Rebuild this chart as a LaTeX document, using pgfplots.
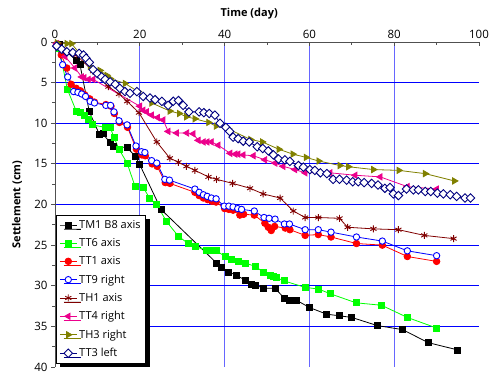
\documentclass[border=0pt]{standalone}
\usepackage{fontspec}
\setmainfont{Open Sans}
\usepackage{pgfplots}
\pgfplotsset{compat=1.18}
\usetikzlibrary{shadows}
\definecolor{olivec}{RGB}{128,128,0}
\definecolor{darkredc}{RGB}{128,0,0}
\definecolor{navyc}{RGB}{0,0,128}
\definecolor{axgray}{RGB}{80,80,80}
\begin{document}
\begin{tikzpicture}
\useasboundingbox (0,0) rectangle (490pt,-372pt);
\begin{axis}[
  at={(55pt,-42pt)}, anchor=north west,
  scale only axis, width=424pt, height=325pt,
  xmin=0, xmax=100, ymin=0, ymax=40, y dir=reverse,
  axis line style={draw=none},
  xtick={0,20,...,100}, ytick={0,5,...,40},
  minor x tick num=1, minor y tick num=1,
  xtick pos=upper, ytick pos=left, xticklabel pos=upper,
  xtick align=inside, ytick align=outside,
  major tick length=4pt, minor tick length=3pt,
  every tick/.style={axgray, line width=0.9pt},
  /pgf/number format/assume math mode=true,
  tick label style={font=\fontsize{11.5}{13}\selectfont},
  extra x ticks={20,40,60,80}, extra x tick labels={},
  extra x tick style={grid=major, major grid style={blue!60, line width=0.9pt}},
  extra y ticks={5,10,...,35}, extra y tick labels={},
  extra y tick style={grid=major, major grid style={blue, line width=0.9pt}},
  xlabel={\textbf{Time (day)}},
  xlabel style={at={(axis description cs:0.458,1)}, anchor=south, yshift=19pt, font=\fontsize{11}{13}\selectfont},
  ylabel={\textbf{Settlement (cm)}},
  ylabel style={at={(axis description cs:0,0.5)}, anchor=center, rotate=0, yshift=38pt, font=\fontsize{11}{13}\selectfont},
  legend cell align=left,
  legend style={at={(axis description cs:0.0025,0.468)}, anchor=north west,
    draw=black, line width=0.6pt, fill=white, font=\fontsize{11}{13}\selectfont,
    row sep=4.6pt, inner sep=3pt,
    drop shadow={shadow xshift=4pt, shadow yshift=-4pt, fill=black, opacity=1}},
  every axis plot/.append style={line width=0.8pt},
]
\addplot[black, mark=square*, mark size=3pt, mark options={fill=black}] coordinates {
(1,0.3) (5,2.3) (5.9,2.8) (8.1,8.6) (10.5,11.4) (11.3,11.3) (13,12.4) (13.7,12.8)
(17,13) (19,14.1) (20,15.1) (25,20.6) (38.1,27.2) (39.3,27.7) (40.9,28.3) (42.8,28.7)
(44.8,29.3) (46.4,29.8) (47.2,29.9) (49.1,30.3) (51.9,30.3) (54,31.5) (55.4,31.8)
(57,31.8) (60.1,32.7) (64.1,33.5) (67.1,33.7) (70,33.9) (76,34.9) (82,35.4) (88,37) (95,37.9)};
\addlegendentry{TM1 B8 axis}
\addplot[green, mark=square*, mark size=3pt, mark options={fill=green}] coordinates {
(1,0.8) (2.9,5.8) (5,8.5) (5.9,8.7) (6.9,9) (7.9,9.5) (8.8,10.2) (11.8,10.5) (13,10.5)
(13.9,11.7) (15.1,13.2) (17,14.9) (18.9,17.8) (20.8,17.9) (22.3,19.2) (24,20) (26.3,22.1)
(29.1,23.9) (31.4,24.8) (33,25.2) (35.8,25.6) (37,25.6) (38.1,25.7) (40.1,26.4) (41.7,26.7)
(43.2,27) (44.8,27.2) (47.2,27.6) (49.1,28.3) (50.7,28.7) (51.5,28.9) (52.3,29) (54,29.4)
(59,30.2) (62.1,30.4) (65,31) (71,32.1) (77,32.4) (83.1,33.9) (90,35.2)};
\addlegendentry{TT6 axis}
\addplot[red, mark=*, mark size=3.3pt, mark options={fill=red}] coordinates {
(0.4,0.3) (1.5,1.6) (2.8,3.2) (3.8,5.2) (5,5.7) (6,6) (7,6.5) (8.2,7) (9.3,7.4) (12,7.7)
(13.2,7.9) (14,8.8) (15.2,9.9) (17.1,10.5) (19.2,13.2) (20.5,13.9) (21.3,14) (22.9,15)
(24.1,15.3) (26,17.3) (27.1,17.4) (33,18.5) (34,18.9) (35,19.2) (36,19.4) (37,19.6)
(38,19.7) (40,20.5) (41,20.6) (42,20.7) (43.6,21.3) (44.5,21.2) (47,21.3) (49.5,22.3)
(50.3,22.8) (51,23.2) (51.8,22.7) (54.3,22.9) (55.4,23.1) (59,23.8) (62.1,23.7) (65.1,24)
(71.1,24.8) (77.2,25) (83.1,26.4) (90,27)};
\addlegendentry{TT1 axis}
\addplot[blue, mark=*, mark size=3.2pt, mark options={fill=white, line width=0.9pt}] coordinates {
(0.4,0.5) (1.8,2.8) (3,4.3) (4.4,6.1) (5.4,6.2) (6.3,6.4) (7.2,6.7) (8.3,7.3) (9.3,7.5)
(12,7.8) (13.1,7.8) (13.9,8.6) (15.1,9.7) (17,10.2) (19.1,12.8) (20.4,13.5) (21.2,13.6)
(22.8,14.6) (24,14.9) (25.9,16.9) (27,17) (33,18.1) (34,18.5) (35,18.8) (35.9,19) (36.9,19.2)
(38,19.3) (39.9,20.2) (41,20.2) (42,20.3) (43.1,20.5) (44,20.6) (47,20.8) (49.3,21.6)
(50.5,21.7) (51.9,21.8) (54.1,22.4) (55.3,22.4) (59,23.1) (62.1,23.1) (65.1,23.4)
(71.1,24) (77.2,24.5) (83.1,25.7) (90,26.3)};
\addlegendentry{TT9 right}
\addplot[darkredc, mark=asterisk, mark size=3.5pt, mark options={line width=0.9pt}] coordinates {
(1,0.3) (5,1.6) (9,3.6) (12.6,5.5) (15.1,6.4) (17,7.3) (19.8,8.7) (24,12.3) (27.1,14.3)
(29.1,14.8) (31,15.3) (33,15.8) (36.2,16.6) (38.1,16.9) (41.9,17.4) (46,18) (49.1,18.7)
(53.1,19.2) (56.2,20.8) (59,21.6) (62.1,21.6) (67.1,21.7) (69,22.8) (75.1,23) (81,23.1)
(87.1,23.8) (94,24.2)};
\addlegendentry{TH1 axis}
\addplot[magenta, mark=triangle*, mark size=3.6pt, mark options={fill=magenta, rotate=90}] coordinates {
(0.4,0.2) (2.4,1.8) (4.7,3.2) (6.3,4.3) (6.9,4.4) (7.9,4.6) (9,4.6) (20,7.9) (20.8,8.4)
(21.6,8.6) (22.8,9) (24.2,9.3) (25.5,9.6) (26.7,11) (28.7,11.2) (31.1,11.2) (32.6,11.3)
(33.8,12.1) (35,12.3) (35.9,12.3) (36.9,12.3) (38.5,12.7) (41.3,13.7) (42.5,13.8)
(43.2,13.8) (44.4,13.9) (46.8,14) (49.5,14.5) (51.9,14.9) (53.8,15.3) (56.6,15.7)
(59,16.1) (64.9,16.1) (70.8,16.4) (76.7,16.6) (83.1,17.8) (90,18.1)};
\addlegendentry{TT4 right}
\addplot[olivec, mark=triangle*, mark size=3.6pt, mark options={fill=olivec, rotate=-90}] coordinates {
(0.5,0.1) (2.8,0.2) (3.9,0.2) (8.3,3) (9.4,3.4) (10.6,3.5) (12.2,4.1) (13,4.5) (16.5,5.1)
(19.6,6.1) (22.8,7.5) (27.1,8.5) (29.3,8.8) (31,9.2) (33,9.45) (36.2,9.9) (38,10.35)
(40.9,10.7) (46.1,12) (48.9,12.3) (52.8,13.2) (56.1,13.8) (59.2,14.2) (62.2,14.65)
(67.2,15.2) (69.2,15.35) (75.1,15.7) (81.1,15.8) (87.3,16.2) (94.2,17.1)};
\addlegendentry{TH3 right}
\addplot[navyc, mark=square*, mark size=3pt, mark options={fill=white, line width=0.9pt, rotate=45}] coordinates {
(0.4,0.5) (1.6,0.9) (2.8,1.2) (4.2,1.3) (5.7,1.4) (6.7,1.6) (7.3,2) (8.1,2.5) (9,3.4)
(10,3.9) (11,4.3) (11.8,4.6) (13,4.9) (14.2,5.2) (15.3,5.7) (16.5,6.1) (17.7,6.3)
(19.3,6.1) (20.8,6.7) (22.4,6.9) (23.6,7.1) (25.2,7.3) (26.7,7.8) (27.9,7.3) (29.1,7.2)
(30.2,7.8) (31.6,8.6) (34,8.6) (35.1,8.7) (36.4,8.8) (37.7,9) (38.9,10) (40.3,10.5)
(41.2,11) (42,11.7) (43.2,11.9) (44.4,12.2) (45.8,12.3) (47.7,12.9) (49,13.1) (50.3,13.4)
(51.5,13.9) (52.7,14.4) (54.2,14.5) (55.4,14.7) (57.4,15.2) (58.6,15.4) (60.1,15.7)
(61.3,15.8) (62.6,16.1) (64.1,16.2) (65.6,16.9) (67.1,16.9) (68.8,17) (70.2,17.2)
(71.5,17.2) (72.9,17.3) (74.7,17.4) (76.2,17.6) (77.8,18) (79,17.9) (79.8,18.7) (81,18.9)
(82.9,18.1) (84.5,18.2) (85.7,18.2) (87.3,18.4) (88.6,18.4) (90.2,18.6) (91.6,18.7)
(93.2,18.8) (94.7,19) (96.7,19.2) (98,19.2)};
\addlegendentry{TT3 left}
\draw[axgray, line width=1.6pt] (axis cs:0,40) -- (axis cs:0,0) -- (axis cs:100,0);
\end{axis}
\end{tikzpicture}
\end{document}
